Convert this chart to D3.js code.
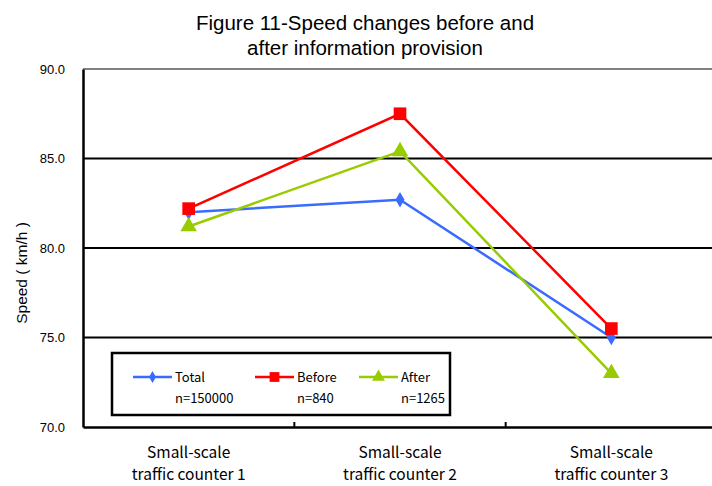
<!DOCTYPE html>
<html>
<head>
<meta charset="utf-8">
<script src="https://cdn.jsdelivr.net/npm/d3@7"></script>
<style>
  body { margin: 0; background: #fff; }
  svg { display: block; }
</style>
</head>
<body>
<div id="chart"></div>
<script>
const categories = ["Small-scale\ntraffic counter 1", "Small-scale\ntraffic counter 2", "Small-scale\ntraffic counter 3"];
const totalValues = [82.0, 82.7, 75.0];
const beforeValues = [82.2, 87.5, 75.5];
const afterValues = [81.2, 85.4, 73.0];
const yTicks = [70, 75, 80, 85, 90];
const seriesNames = ["Total", "Before", "After"];
const seriesCounts = ["n=150000", "n=840", "n=1265"];

const w = 712, h = 486;
const margin = { top: 69, right: -5, bottom: 59, left: 83 };
const jp = "'Noto Sans CJK JP', 'Noto Sans', sans-serif";
const arial = "'Liberation Sans', Arial, sans-serif";

const series = [
  { name: seriesNames[0], n: seriesCounts[0], values: totalValues, color: "#3a6bff", shape: d3.symbolDiamond, size: 70 },
  { name: seriesNames[1], n: seriesCounts[1], values: beforeValues, color: "#ff0000", shape: d3.symbolSquare, size: 160 },
  { name: seriesNames[2], n: seriesCounts[2], values: afterValues, color: "#99cc00", shape: d3.symbolTriangle, size: 120 }
];

const svg = d3.select("#chart").append("svg")
  .attr("width", w)
  .attr("height", h);

// scales
const x = d3.scaleBand()
  .domain(categories)
  .range([margin.left, w - margin.right]);
const y = d3.scaleLinear()
  .domain([70, 90])
  .range([h - margin.bottom, margin.top]);

// title
svg.append("text")
  .attr("x", 365).attr("y", 30)
  .attr("text-anchor", "middle")
  .style("font-family", arial).style("font-size", "20.5px")
  .text("Figure 11-Speed changes before and");
svg.append("text")
  .attr("x", 365).attr("y", 55)
  .attr("text-anchor", "middle")
  .style("font-family", arial).style("font-size", "20.5px")
  .text("after information provision");

// gridlines
svg.append("g")
  .selectAll("line")
  .data(yTicks.filter(t => t > 70))
  .join("line")
    .attr("x1", margin.left).attr("x2", w)
    .attr("y1", d => y(d)).attr("y2", d => y(d))
    .attr("stroke", d => d === 90 ? "#808080" : "#000")
    .attr("stroke-width", 2);

// y axis
const yAxis = d3.axisLeft(y)
  .tickValues(yTicks)
  .tickSize(0)
  .tickPadding(18)
  .tickFormat(d3.format(".1f"));
svg.append("g")
  .attr("transform", `translate(${margin.left},0)`)
  .call(yAxis)
  .call(g => g.select(".domain").attr("stroke", "#000").attr("stroke-width", 2.5))
  .call(g => g.selectAll("text").style("font-family", arial).style("font-size", "13px").attr("fill", "#000"));

// x axis
const xAxis = d3.axisBottom(x).tickSize(0).tickFormat("");
svg.append("g")
  .attr("transform", `translate(0,${y(70)})`)
  .call(xAxis)
  .call(g => g.select(".domain").attr("stroke", "#000").attr("stroke-width", 2.5));

// tick marks between categories
svg.append("g")
  .selectAll("line")
  .data(categories.slice(1))
  .join("line")
    .attr("x1", d => x(d)).attr("x2", d => x(d))
    .attr("y1", y(70)).attr("y2", y(70) - 5)
    .attr("stroke", "#000").attr("stroke-width", 2);

// category labels
const catLabels = svg.append("g")
  .selectAll("text")
  .data(categories)
  .join("text")
    .attr("text-anchor", "middle")
    .style("font-family", jp).style("font-size", "15.5px")
    .attr("fill", "#000");
catLabels.each(function(d) {
  const lines = d.split("\n");
  d3.select(this).selectAll("tspan")
    .data(lines)
    .join("tspan")
      .attr("x", x(d) + x.bandwidth() / 2)
      .attr("y", (l, i) => 458 + i * 22)
      .text(l => l);
});

// y axis title
svg.append("text")
  .attr("transform", `translate(27,${273}) rotate(-90)`)
  .attr("text-anchor", "middle")
  .style("font-family", arial).style("font-size", "15.5px")
  .text("Speed ( km/h )");

// lines and markers
const line = d3.line()
  .x((v, i) => x(categories[i]) + x.bandwidth() / 2)
  .y(v => y(v));

series.forEach(s => {
  svg.append("path")
    .datum(s.values)
    .attr("fill", "none")
    .attr("stroke", s.color)
    .attr("stroke-width", 2.5)
    .attr("d", line);
});
series.forEach(s => {
  svg.append("g")
    .selectAll("path")
    .data(s.values)
    .join("path")
      .attr("transform", (v, i) => `translate(${x(categories[i]) + x.bandwidth() / 2},${y(v)})`)
      .attr("d", d3.symbol().type(s.shape).size(s.size))
      .attr("fill", s.color);
});

// legend
const legend = svg.append("g");
legend.append("rect")
  .attr("x", 112).attr("y", 353)
  .attr("width", 338).attr("height", 62)
  .attr("fill", "#fff")
  .attr("stroke", "#000").attr("stroke-width", 2.5);

const legendX = [133, 255, 359];
series.forEach((s, i) => {
  const lx = legendX[i];
  legend.append("line")
    .attr("x1", lx).attr("x2", lx + 39)
    .attr("y1", 377).attr("y2", 377)
    .attr("stroke", s.color).attr("stroke-width", 2.5);
  legend.append("path")
    .attr("transform", `translate(${lx + 19.5},377)`)
    .attr("d", d3.symbol().type(s.shape).size(s.size * 0.6))
    .attr("fill", s.color);
  legend.append("text")
    .attr("x", lx + 42).attr("y", 382)
    .style("font-family", jp).style("font-size", "13px")
    .text(s.name);
  legend.append("text")
    .attr("x", lx + 42).attr("y", 403)
    .style("font-family", jp).style("font-size", "13px")
    .text(s.n);
});
</script>
</body>
</html>
